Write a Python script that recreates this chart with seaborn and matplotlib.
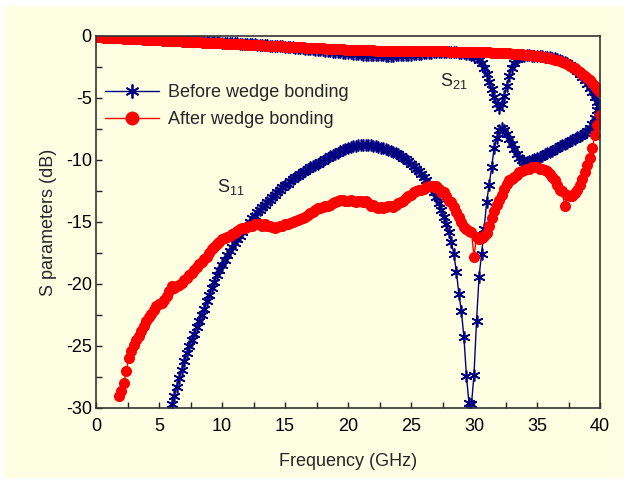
import numpy as np
import pandas as pd
import matplotlib
matplotlib.use("Agg")
import matplotlib.pyplot as plt
from matplotlib.lines import Line2D
from matplotlib.patches import Rectangle
import seaborn as sns

# Frequency sweep (GHz), 0.2 GHz step
freq = np.round(np.arange(0, 40.001, 0.2), 1)

# Transmission S21 (dB) over the whole sweep
s21_before = [
    -0.02, -0.03, -0.04, -0.05, -0.06, -0.07, -0.08, -0.09, -0.10, -0.11, -0.12,
    -0.13, -0.14, -0.15, -0.16, -0.17, -0.18, -0.19, -0.20, -0.21, -0.22,
    -0.23, -0.24, -0.25, -0.27, -0.28, -0.29, -0.30, -0.31, -0.32, -0.33,
    -0.34, -0.35, -0.36, -0.37, -0.38, -0.39, -0.40, -0.41, -0.42, -0.43,
    -0.44, -0.45, -0.46, -0.47, -0.48, -0.49, -0.50, -0.51, -0.52, -0.53,
    -0.54, -0.55, -0.56, -0.57, -0.58, -0.60, -0.61, -0.62, -0.63, -0.64,
    -0.66, -0.67, -0.68, -0.70, -0.71, -0.72, -0.74, -0.75, -0.77, -0.78,
    -0.80, -0.81, -0.83, -0.84, -0.86, -0.88, -0.89, -0.91, -0.93, -0.95,
    -0.97, -0.99, -1.01, -1.03, -1.05, -1.07, -1.09, -1.11, -1.13, -1.16,
    -1.18, -1.20, -1.22, -1.25, -1.27, -1.29, -1.32, -1.34, -1.36, -1.38,
    -1.40, -1.42, -1.44, -1.46, -1.48, -1.50, -1.51, -1.52, -1.53, -1.54,
    -1.55, -1.56, -1.57, -1.57, -1.58, -1.58, -1.58, -1.58, -1.57, -1.57,
    -1.56, -1.55, -1.54, -1.52, -1.50, -1.48, -1.46, -1.44, -1.42, -1.40,
    -1.38, -1.36, -1.35, -1.33, -1.32, -1.31, -1.30, -1.30, -1.30, -1.30,
    -1.31, -1.32, -1.33, -1.35, -1.37, -1.40, -1.43, -1.47, -1.52, -1.58,
    -1.70, -1.90, -2.20, -2.60, -3.10, -3.70, -4.30, -4.90, -5.45, -5.80,
    -5.50, -4.80, -4.00, -3.20, -2.60, -2.15, -1.85, -1.70, -1.62, -1.58,
    -1.57, -1.57, -1.58, -1.59, -1.60, -1.62, -1.64, -1.66, -1.68, -1.71,
    -1.75, -1.80, -1.86, -1.93, -2.01, -2.10, -2.21, -2.34, -2.49, -2.66,
    -2.85, -3.06, -3.30, -3.56, -3.85, -4.17, -4.52, -4.90, -5.30, -5.70,
]
s21_after = [
    -0.10, -0.11, -0.12, -0.13, -0.14, -0.15, -0.16, -0.17, -0.18, -0.19, -0.20,
    -0.21, -0.22, -0.23, -0.24, -0.25, -0.26, -0.27, -0.28, -0.29, -0.30,
    -0.31, -0.32, -0.33, -0.34, -0.35, -0.36, -0.37, -0.38, -0.39, -0.40,
    -0.41, -0.42, -0.43, -0.44, -0.45, -0.46, -0.47, -0.48, -0.49, -0.50,
    -0.51, -0.52, -0.53, -0.54, -0.55, -0.56, -0.57, -0.58, -0.59, -0.60,
    -0.61, -0.62, -0.63, -0.64, -0.65, -0.66, -0.67, -0.68, -0.69, -0.70,
    -0.71, -0.72, -0.73, -0.74, -0.75, -0.76, -0.77, -0.78, -0.79, -0.80,
    -0.81, -0.82, -0.83, -0.84, -0.85, -0.86, -0.87, -0.88, -0.89, -0.90,
    -0.91, -0.92, -0.93, -0.94, -0.95, -0.96, -0.97, -0.98, -0.99, -1.00,
    -1.01, -1.02, -1.03, -1.04, -1.05, -1.06, -1.07, -1.08, -1.09, -1.10,
    -1.11, -1.12, -1.12, -1.13, -1.14, -1.14, -1.15, -1.15, -1.16, -1.16,
    -1.17, -1.17, -1.18, -1.18, -1.18, -1.19, -1.19, -1.19, -1.20, -1.20,
    -1.20, -1.20, -1.21, -1.21, -1.21, -1.21, -1.22, -1.22, -1.22, -1.22,
    -1.22, -1.23, -1.23, -1.23, -1.23, -1.24, -1.24, -1.24, -1.24, -1.25,
    -1.25, -1.25, -1.26, -1.26, -1.27, -1.27, -1.28, -1.28, -1.29, -1.30,
    -1.30, -1.31, -1.31, -1.32, -1.33, -1.33, -1.34, -1.35, -1.36, -1.37,
    -1.38, -1.39, -1.40, -1.41, -1.42, -1.43, -1.45, -1.46, -1.48, -1.50,
    -1.52, -1.54, -1.56, -1.58, -1.61, -1.64, -1.67, -1.71, -1.75, -1.80,
    -1.85, -1.91, -1.97, -2.04, -2.11, -2.19, -2.28, -2.38, -2.49, -2.61,
    -2.74, -2.88, -3.03, -3.20, -3.38, -3.58, -3.80, -4.04, -4.28, -4.50,
]

# Reflection S11 (dB); lower frequencies fall below the plotted range
s11_before_start = 5.8
s11_before = [
    -30.4, -29.7,
    -29.0, -28.3, -27.6, -26.9, -26.2, -25.6, -25.0, -24.5, -24.0, -23.5,
    -23.0, -22.5, -22.0, -21.4, -20.9, -20.3, -19.8, -19.3, -18.9, -18.5,
    -18.1, -17.7, -17.3, -17.0, -16.7, -16.4, -16.1, -15.8, -15.5, -15.3,
    -15.0, -14.7, -14.5, -14.2, -14.0, -13.8, -13.6, -13.4, -13.2, -13.0,
    -12.8, -12.6, -12.4, -12.2, -12.05, -11.9, -11.7, -11.55, -11.4, -11.25,
    -11.1, -11.0, -10.85, -10.7, -10.6, -10.5, -10.4, -10.3, -10.15, -10.05,
    -9.95, -9.85, -9.7, -9.6, -9.5, -9.4, -9.3, -9.2, -9.1, -9.0,
    -8.95, -8.9, -8.85, -8.8, -8.8, -8.75, -8.75, -8.8, -8.8, -8.85,
    -8.9, -8.95, -9.0, -9.05, -9.1, -9.2, -9.25, -9.35, -9.45, -9.55,
    -9.65, -9.8, -9.95, -10.1, -10.3, -10.5, -10.7, -10.9, -11.1, -11.35,
    -11.6, -11.9, -12.2, -12.6, -13.0, -13.5, -14.0, -14.6, -15.2, -15.8,
    -16.6, -17.6, -19.0, -20.8, -22.2, -24.3, -27.4, -29.6, -29.7, -27.3,
    -23.0, -19.4, -17.6, -15.6, -13.4, -12.0, -10.6, -9.0, -8.2, -7.6,
    -7.4, -7.6, -7.9, -8.3, -8.7, -9.1, -9.5, -9.8, -10.0, -10.2,
    -10.15, -10.1, -10.0, -9.95, -9.85, -9.75, -9.65, -9.55, -9.45, -9.35,
    -9.25, -9.15, -9.0, -8.9, -8.8, -8.7, -8.6, -8.5, -8.4, -8.3,
    -8.15, -8.05, -7.95, -7.85, -7.7, -7.45, -7.1, -6.6, -6.0, -5.6,
]
s11_after_start = 1.8
s11_after = [
    -29.0, -28.6,
    -28.0, -27.0, -26.0, -25.4, -24.9, -24.5, -24.2, -23.8, -23.4, -23.0,
    -22.7, -22.4, -22.1, -21.8, -21.6, -21.5, -21.3, -21.0, -20.6, -20.2,
    -20.3, -20.2, -20.1, -19.9, -19.7, -19.5, -19.3, -19.1, -18.9, -18.6,
    -18.4, -18.2, -18.0, -17.8, -17.5, -17.2, -17.0, -16.8, -16.6, -16.4,
    -16.3, -16.2, -16.1, -16.0, -15.9, -15.7, -15.6, -15.5, -15.5, -15.4,
    -15.3, -15.3, -15.2, -15.2, -15.2, -15.3, -15.2, -15.3, -15.3, -15.4,
    -15.5, -15.4, -15.3, -15.3, -15.2, -15.2, -15.1, -15.0, -14.9, -14.8,
    -14.75, -14.7, -14.6, -14.45, -14.3, -14.2, -14.0, -13.9, -13.9, -13.8,
    -13.7, -13.7, -13.6, -13.5, -13.4, -13.3, -13.2, -13.2, -13.3, -13.3,
    -13.2, -13.3, -13.4, -13.3, -13.3, -13.4, -13.3, -13.5, -13.7, -13.6,
    -13.8, -13.9, -13.8, -13.9, -13.8, -13.7, -13.7, -13.8, -13.6, -13.5,
    -13.4, -13.3, -13.1, -12.9, -12.8, -12.6, -12.5, -12.4, -12.4, -12.3,
    -12.2, -12.1, -12.1, -12.2, -12.1, -12.3, -12.6, -12.6, -12.9, -13.3,
    -13.4, -13.8, -14.2, -14.6, -15.0, -15.4, -15.6, -15.7, -15.8, -17.8,
    -16.2, -16.4, -16.3, -16.1, -15.9, -15.3, -14.7, -14.1, -13.6, -13.2,
    -12.8, -12.3, -11.9, -11.6, -11.5, -11.4, -11.2, -11.0, -10.9, -10.8,
    -10.7, -10.7, -10.6, -10.6, -10.6, -10.7, -10.7, -10.8, -10.9, -11.1,
    -11.4, -11.6, -12.0, -12.4, -12.5, -13.7, -12.8, -12.9, -12.9, -12.7,
    -12.4, -12.0, -11.5, -11.0, -10.4, -9.8, -9.0, -8.0, -7.2, -6.4,
]

labels = ["Before wedge bonding", "After wedge bonding"]
x_ticks = [0, 5, 10, 15, 20, 25, 30, 35, 40]
y_ticks = [0, -5, -10, -15, -20, -25, -30]

sns.set_style("ticks")
plt.rcParams["font.family"] = ["Liberation Sans", "DejaVu Sans"]
plt.rcParams["mathtext.fontset"] = "custom"
plt.rcParams["mathtext.rm"] = "Liberation Sans"
plt.rcParams["mathtext.it"] = "Liberation Sans"
plt.rcParams["axes.unicode_minus"] = False

BG = "#FEFEE2"
BLUE = "#000080"
RED = "#FF0000"
FS = 13

fig = plt.figure(figsize=(6.28, 4.84), dpi=100, facecolor="white")
fig.patches.append(Rectangle((4 / 628, 6 / 484), 620 / 628, 472 / 484,
                             transform=fig.transFigure, facecolor=BG,
                             edgecolor="none", zorder=-10))
ax = fig.add_axes([96 / 628, 76 / 484, 504 / 628, 372 / 484])
ax.set_facecolor(BG)

star = (6, 2, 0)
f_before = freq[freq >= s11_before_start - 1e-9]
f_after = freq[freq >= s11_after_start - 1e-9]

blue_kw = dict(color=BLUE, lw=1.0, marker=star, markersize=8.5,
               markeredgewidth=1.2, markeredgecolor=BLUE,
               sort=False, estimator=None, ax=ax)
red_kw = dict(color=RED, lw=1.0, marker="o", markersize=8,
              markeredgewidth=0, markerfacecolor=RED,
              sort=False, estimator=None, ax=ax)

sns.lineplot(x=freq, y=s21_before, **blue_kw)
sns.lineplot(x=f_before, y=s11_before, **blue_kw)
sns.lineplot(x=freq, y=s21_after, **red_kw)
sns.lineplot(x=f_after, y=s11_after, **red_kw)

ax.set_xlim(0, 40)
ax.set_ylim(-30, 0)
ax.set_xticks(x_ticks)
ax.set_yticks(y_ticks)
ax.set_xticks(np.arange(2.5, 40, 5), minor=True)
ax.set_yticks(np.arange(-27.5, 0, 5), minor=True)
ax.tick_params(which="both", direction="in", length=4, width=1.0,
               colors="#222222", labelsize=FS, labelcolor="black")
ax.tick_params(axis="x", which="major", pad=7)
ax.tick_params(axis="y", which="major", pad=3)
for side in ["left", "bottom", "right", "top"]:
    ax.spines[side].set_visible(True)
    ax.spines[side].set_color("#333333")
    ax.spines[side].set_linewidth(1.2)

ax.set_xlabel("Frequency (GHz)", fontsize=FS, labelpad=13)
ax.set_ylabel("S parameters (dB)", fontsize=FS, labelpad=6)

ax.text(27.3, -3.6, r"S$_{\mathrm{21}}$", fontsize=FS, ha="left", va="center")
ax.text(9.6, -12.2, r"S$_{\mathrm{11}}$", fontsize=FS, ha="left", va="center")

handles = [
    Line2D([], [], color=BLUE, lw=1.0, marker=star, markersize=10,
           markeredgewidth=1.3, markeredgecolor=BLUE),
    Line2D([], [], color=RED, lw=1.0, marker="o", markersize=10,
           markeredgewidth=0, markerfacecolor=RED),
]
leg = ax.legend(handles, labels, loc="upper left",
                bbox_to_anchor=(105 / 628, 1 - 84 / 484),
                bbox_transform=fig.transFigure, frameon=False,
                fontsize=FS, handlelength=3.0, handletextpad=0.5,
                labelspacing=0.55, borderpad=0, borderaxespad=0)

fig.savefig("out.png", dpi=100, facecolor="white")
